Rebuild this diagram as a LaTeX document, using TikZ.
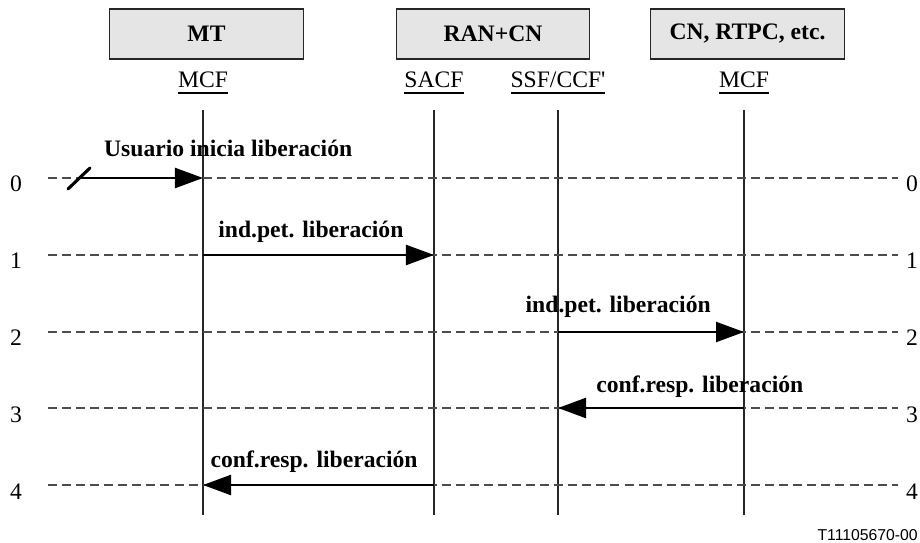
\documentclass[tikz,border=0pt]{standalone}
\usepackage{fontspec}
\setmainfont{Liberation Serif}
\setsansfont{Liberation Sans}
\usetikzlibrary{arrows.meta}

\newcommand{\msgfont}{\fontsize{16.8}{20}\selectfont}
\newcommand{\fname}[1]{\setbox0\hbox{#1}\rlap{\rule[-4.2pt]{\wd0}{1pt}}\box0}

\begin{document}
\begin{tikzpicture}[x=0.025cm, y=-0.025cm,
    entity/.style={rectangle, draw=black!85, fill=black!10, line width=0.8pt, minimum width=4.83cm, minimum height=1.25cm, font=\msgfont\bfseries},
    func/.style={anchor=base, inner sep=0pt, font=\msgfont},
    num/.style={anchor=base, inner sep=0pt, font=\msgfont},
    life/.style={draw=black!85, line width=0.9pt},
    row/.style={draw=black!70, line width=0.9pt, dash pattern=on 6.4pt off 3.6pt},
    msg/.style={draw, line width=1.6pt, -{Triangle[length=0.7cm, width=0.5cm]}},
    lbl/.style={anchor=base, inner sep=0pt, yshift=0.43cm, font=\msgfont\bfseries}]
    \useasboundingbox (0,0) rectangle (920,543);

    \node [entity] (mt) at (206.5,34) {MT};
    \node [entity] (rancn) at (493,34) {RAN+CN};
    \node [entity] (cnet) at (747.5,34) {CN, RTPC, etc.};

    \node [func] (mcfa) at (203,88) {\fname{MCF}};
    \node [func] (sacf) at (434,88) {\fname{SACF}};
    \node [func] (ssf) at (558,88) {\fname{SSF/CCF\textquotesingle}};
    \node [func] (mcfb) at (744,88) {\fname{MCF}};

    % lifelines
    \foreach \f in {mcfa, sacf, ssf, mcfb}
        \path [life] (\f |- 0,110) -- (\f |- 0,515);

    % time rows 0..4
    \foreach \r/\yy in {0/178, 1/255, 2/332, 3/408, 4/485} {
        \node [num] (nl-\r) at (16,\yy+14) {\r};
        \node [num] (nr-\r) at (912,\yy+14) {\r};
        \coordinate (rl-\r) at (48,\yy);
        \coordinate (rr-\r) at (898,\yy);
        \path [row] (rl-\r) -- (rr-\r);
        \foreach \f in {mcfa, sacf, ssf, mcfb}
            \coordinate (\f-\r) at (\f |- rl-\r);
    }

    % messages
    \coordinate (usr) at (79,178);
    \path [draw, line width=2.2pt, line cap=round] ([shift={(-11,11)}]usr) -- ([shift={(11,-10)}]usr);
    \path [msg] (usr) -- node [lbl, pos=0, anchor=base west, xshift=0.6cm, yshift=0.1cm] {Usuario inicia liberación} (mcfa-0);
    \path [msg] (mcfa-1) -- node [lbl, xshift=-0.19cm] {ind.pet. liberación} (sacf-1);
    \path [msg] (ssf-2) -- node [lbl, xshift=-0.82cm, yshift=0.05cm] {ind.pet. liberación} (mcfb-2);
    \path [msg] (mcfb-3) -- node [lbl, xshift=1.22cm, yshift=-0.05cm] {conf.resp. liberación} (ssf-3);
    \path [msg] (sacf-4) -- node [lbl, xshift=-0.11cm] {conf.resp. liberación} (mcfa-4);

    \node [anchor=base east, inner sep=0pt, font=\sffamily\fontsize{11.2}{13}\selectfont] (fig) at (918,540) {T11105670-00};
\end{tikzpicture}
\end{document}
